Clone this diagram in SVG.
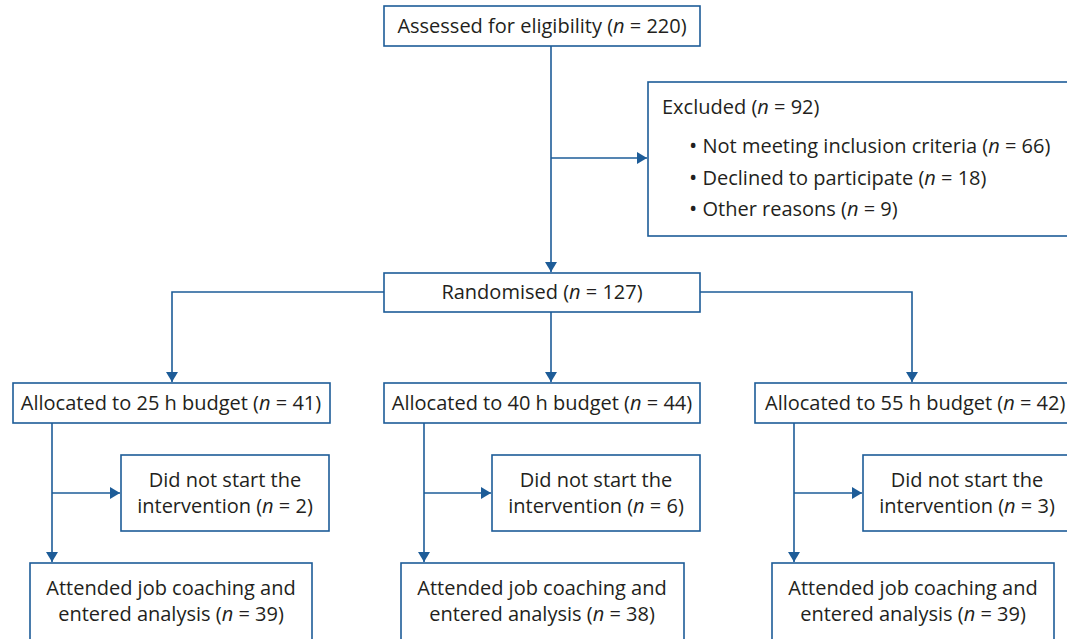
<svg xmlns="http://www.w3.org/2000/svg" width="1067" height="639" viewBox="0 0 1067 639">
<style>
.box{fill:#fff;stroke:#1d5c98;stroke-width:1.6}
.ln{fill:none;stroke:#1d5c98;stroke-width:1.6}
text{font-family:"Open Sans","Noto Sans",sans-serif;font-size:20px;fill:#231f20}
.c{text-anchor:middle}
.b{font-size:22px}
</style>
<defs>
<marker id="ah" viewBox="0 0 10 12" refX="10" refY="6" markerWidth="11" markerHeight="12" markerUnits="userSpaceOnUse" orient="auto">
<path d="M0,0 L10,6 L0,12 Z" fill="#1d5c98"/>
</marker>
</defs>
<rect width="1067" height="639" fill="#fff"/>
<g id="connectors">
<path class="ln" d="M551,46 V272" marker-end="url(#ah)"/>
<path class="ln" d="M551,158 H647" marker-end="url(#ah)"/>
<path class="ln" d="M384,292 H172 V382" marker-end="url(#ah)"/>
<path class="ln" d="M700,292 H912 V382" marker-end="url(#ah)"/>
<path class="ln" d="M551,312 V382" marker-end="url(#ah)"/>
<path class="ln" d="M52,423 V562" marker-end="url(#ah)"/>
<path class="ln" d="M52,493 H120" marker-end="url(#ah)"/>
<path class="ln" d="M424,423 V562" marker-end="url(#ah)"/>
<path class="ln" d="M424,493 H491" marker-end="url(#ah)"/>
<path class="ln" d="M794,423 V562" marker-end="url(#ah)"/>
<path class="ln" d="M794,493 H862" marker-end="url(#ah)"/>
</g>
<g id="assessed">
<rect class="box" x="384" y="6" width="316" height="40"/>
<text class="c" x="542" y="33">Assessed for eligibility (<tspan font-style="italic">n</tspan> = 220)</text>
</g>
<g id="excluded">
<rect class="box" x="648" y="82" width="425" height="154"/>
<text x="662" y="114">Excluded (<tspan font-style="italic">n</tspan> = 92)</text>
<text x="689" y="153"><tspan class="b">•</tspan> Not meeting inclusion criteria (<tspan font-style="italic">n</tspan> = 66)</text>
<text x="689" y="185"><tspan class="b">•</tspan> Declined to participate (<tspan font-style="italic">n</tspan> = 18)</text>
<text x="689" y="216"><tspan class="b">•</tspan> Other reasons (<tspan font-style="italic">n</tspan> = 9)</text>
</g>
<g id="randomised">
<rect class="box" x="384" y="273" width="316" height="39"/>
<text class="c" x="542" y="299">Randomised (<tspan font-style="italic">n</tspan> = 127)</text>
</g>
<g id="alloc25">
<rect class="box" x="13" y="383" width="317" height="40"/>
<text class="c" x="171" y="410">Allocated to 25 h budget (<tspan font-style="italic">n</tspan> = 41)</text>
</g>
<g id="alloc40">
<rect class="box" x="384" y="383" width="316" height="40"/>
<text class="c" x="542" y="410">Allocated to 40 h budget (<tspan font-style="italic">n</tspan> = 44)</text>
</g>
<g id="alloc55">
<rect class="box" x="755" y="383" width="320" height="40"/>
<text x="765" y="410">Allocated to 55 h budget (<tspan font-style="italic">n</tspan> = 42)</text>
</g>
<g id="dns25">
<rect class="box" x="121" y="455" width="208" height="76"/>
<text class="c" x="225" y="487">Did not start the</text>
<text class="c" x="225" y="513">intervention (<tspan font-style="italic">n</tspan> = 2)</text>
</g>
<g id="dns40">
<rect class="box" x="492" y="455" width="208" height="76"/>
<text class="c" x="596" y="487">Did not start the</text>
<text class="c" x="596" y="513">intervention (<tspan font-style="italic">n</tspan> = 6)</text>
</g>
<g id="dns55">
<rect class="box" x="863" y="455" width="210" height="76"/>
<text class="c" x="967" y="487">Did not start the</text>
<text class="c" x="967" y="513">intervention (<tspan font-style="italic">n</tspan> = 3)</text>
</g>
<g id="att25">
<rect class="box" x="30" y="563" width="282" height="90"/>
<text class="c" x="171" y="595">Attended job coaching and</text>
<text class="c" x="171" y="621">entered analysis (<tspan font-style="italic">n</tspan> = 39)</text>
</g>
<g id="att40">
<rect class="box" x="401" y="563" width="283" height="90"/>
<text class="c" x="542" y="595">Attended job coaching and</text>
<text class="c" x="542" y="621">entered analysis (<tspan font-style="italic">n</tspan> = 38)</text>
</g>
<g id="att55">
<rect class="box" x="772" y="563" width="282" height="90"/>
<text class="c" x="913" y="595">Attended job coaching and</text>
<text class="c" x="913" y="621">entered analysis (<tspan font-style="italic">n</tspan> = 39)</text>
</g>
</svg>
